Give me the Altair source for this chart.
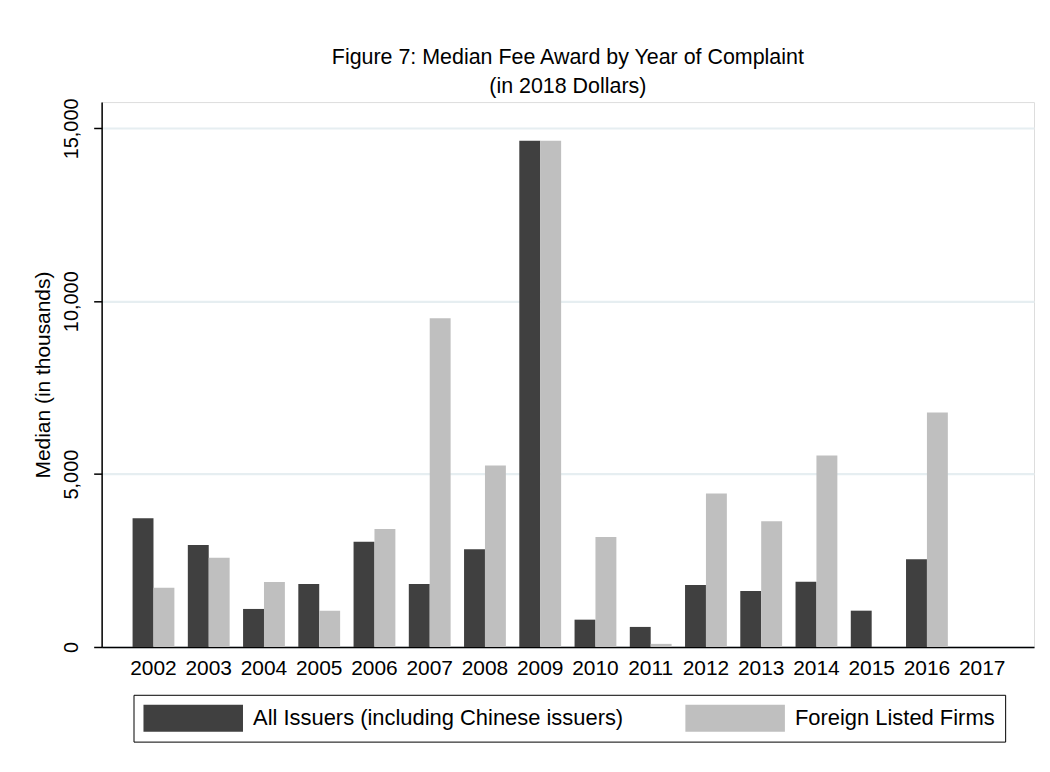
import altair as alt
import pandas as pd

years = [str(y) for y in range(2002, 2018)]
all_issuers = [3720, 2950, 1100, 1820, 3040, 1820, 2830, 14640, 790, 580, 1790, 1620, 1890, 1050, 2540, None]
foreign = [1710, 2580, 1880, 1050, 3410, 9510, 5250, 14640, 3180, 90, 4440, 3640, 5540, None, 6780, None]
series = ["All Issuers (including Chinese issuers)", "Foreign Listed Firms"]
colors = ["#404040", "#bfbfbf"]
y_ticks = [0, 5000, 10000, 15000]

rows = []
for i, yr in enumerate(years):
    if all_issuers[i] is not None:
        rows.append({"year": yr, "series": series[0], "value": all_issuers[i], "order": 0})
    if foreign[i] is not None:
        rows.append({"year": yr, "series": series[1], "value": foreign[i], "order": 1})
df = pd.DataFrame(rows)

FONT = "Liberation Sans"

chart = alt.Chart(df).mark_bar(stroke=None).encode(
    x=alt.X("year:N", scale=alt.Scale(domain=years, paddingInner=0.243, paddingOuter=0.56),
            axis=alt.Axis(title=None, ticks=False, labelPadding=11, labelAngle=0,
                          labelFontSize=21, labelColor="#000000", domainColor="#000000",
                          domainWidth=1.5, grid=False, labelFont=FONT)),
    xOffset=alt.XOffset("series:N", scale=alt.Scale(domain=series, paddingInner=0, paddingOuter=0)),
    y=alt.Y("value:Q", scale=alt.Scale(domain=[0, 15760], nice=False, zero=True),
            axis=alt.Axis(title="Median (in thousands)", values=y_ticks, format=",d",
                          labelAngle=270, labelAlign="center", labelBaseline="alphabetic",
                          labelPadding=16, tickSize=8, tickColor="#000000", tickWidth=1.5,
                          domainColor="#000000", domainWidth=1.5,
                          labelFontSize=20, labelColor="#000000", labelFont=FONT,
                          titleFontSize=21, titleFont=FONT, titleFontWeight="normal",
                          titleColor="#000000", titlePadding=8,
                          grid=True, gridColor="#e6eef1", gridWidth=2.2)),
    color=alt.Color("series:N", scale=alt.Scale(domain=series, range=colors),
                    legend=alt.Legend(title=None, orient="none", legendX=32, legendY=595,
                                      direction="horizontal", columns=2,
                                      symbolType="M-1,-1L6.4,-1L6.4,1L-1,1Z",
                                      symbolSize=729, symbolStrokeWidth=0,
                                      symbolOpacity=1,
                                      labelFontSize=22, labelFont=FONT, labelColor="#000000",
                                      labelOffset=83, columnPadding=62, padding=10,
                                      strokeColor="#000000", labelLimit=600)),
    order=alt.Order("order:Q"),
).properties(
    width=936,
    height=547,
    title=alt.TitleParams(
        text=["Figure 7: Median Fee Award by Year of Complaint", "(in 2018 Dollars)"],
        font=FONT, fontSize=21.5, fontWeight="normal", color="#000000",
        anchor="middle", lineHeight=30, offset=0,
    ),
    autosize=alt.AutoSizeParams(type="none"),
    padding={"left": 94, "top": 93, "right": 8, "bottom": 110},
).configure_view(stroke=None).configure(background="#ffffff")

chart.save("out.html", embed_options={"renderer": "svg", "actions": False})
